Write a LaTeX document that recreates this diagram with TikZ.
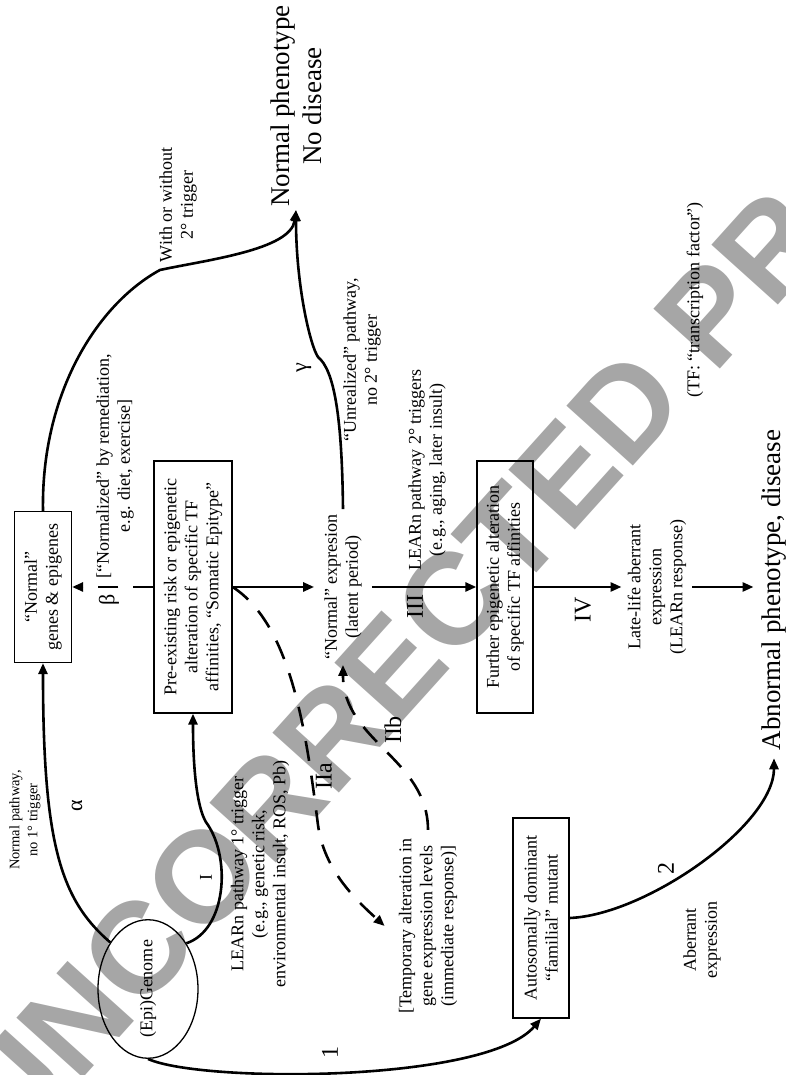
\documentclass[tikz,border=0pt]{standalone}
\usepackage{fontspec}
\setmainfont{Liberation Serif}
\newfontfamily\wmfont{Liberation Sans}
\usepackage{tikz}
\usetikzlibrary{arrows.meta,shapes.geometric}

\newcommand{\txtfs}{\fontsize{18}{21}\selectfont}
\newcommand{\smlfs}{\fontsize{14.5}{18}\selectfont}
\newcommand{\bigfs}{\fontsize{27}{32}\selectfont}
\newcommand{\numfs}{\fontsize{24}{28}\selectfont}
\newcommand{\grkfs}{\fontsize{22}{26}\selectfont}

\begin{document}
\begin{tikzpicture}[x=1pt, y=1pt, rotate=90, transform shape,
  box/.style={draw, line width=1.3pt, align=center, font=\txtfs, inner sep=0pt},
  lbl/.style={align=center, font=\txtfs, inner sep=2pt},
  num/.style={font=\numfs, inner sep=0pt},
  grk/.style={font=\grkfs, inner sep=0pt},
  flow/.style={line width=2.6pt, -{Triangle[length=11pt, width=9pt]}},
  dflow/.style={flow, dash pattern=on 20pt off 15pt}]
\useasboundingbox (0,0) rectangle (1075,786);

% Watermark
\begin{scope}
\clip (0,0) rectangle (1075,786);
\node[text=black!35, font=\wmfont\bfseries\fontsize{130}{130}\selectfont, rotate=-42] (wm) at (512,300) {UNCORRECTED PROOF};
\end{scope}

% Nodes of the main column
\node[box, minimum width=151pt, minimum height=57pt] (normbox) at (488,743) {“Normal”\\genes \& epigenes};
\node[box, minimum width=252pt, minimum height=78pt] (prebox) at (488,593) {Pre-existing risk or epigenetic\\alteration of specific TF\\affinities, “Somatic Epitype”};
\node[lbl, inner xsep=5pt, inner ysep=10pt] (normexpr) at (488,443) {“Normal” expresion\\(latent period)};
\node[box, minimum width=252pt, minimum height=56pt] (further) at (488,281) {Further epigenetic alteration\\of specific TF affinities};
\node[lbl, inner sep=6pt] (latelife) at (488,129) {Late-life aberrant\\expression\\(LEARn response)};
\node[font=\bigfs, inner sep=8pt] (abnormal) at (485,12) {Abnormal phenotype, disease};

% Genome and side nodes
\node[ellipse, draw, line width=1.3pt, minimum width=122pt, minimum height=100pt, inner sep=0pt, font=\txtfs] (genome) at (86,638) {(Epi)Genome};
\node[box, minimum width=200pt, minimum height=56pt] (autobox) at (157,245) {Autosomally dominant\\“familial” mutant};
\node[lbl, inner xsep=8pt, inner ysep=14pt] (tempalt) at (149,358) {[Temporary alteration in\\gene expression levels\\(immediate response)]};
\node[font=\bigfs, align=center, inner sep=3pt] (normpheno) at (969,490) {Normal phenotype\\No disease};

% Texts
\node[lbl] (tfnote) at (775,91) {(TF: “transcription factor”)};
\node[lbl] (aberr) at (135,84) {Aberrant\\expression};
\node[lbl, font=\smlfs] (normpath) at (255,761) {Normal pathway,\\no 1° trigger};
\node[lbl] (learn1) at (201,526) {LEARn pathway 1° trigger\\(e.g., genetic risk,\\environmental insult, ROS, Pb)};
\node[lbl] (learn2) at (605,359) {LEARn pathway 2° triggers\\(e.g., aging, later insult)};
\node[lbl] (normalized) at (609,671) {[“Normalized” by remediation,\\e.g. diet, exercise]};
\node[lbl] (unreal) at (715,424) {“Unrealized” pathway,\\no 2° trigger};
\node[lbl] (withwo) at (870,608) {With or without\\2° trigger};

% Path labels
\node[grk] (alpha) at (269,709) {α};
\node[grk] (beta) at (475,677) {β};
\node[grk] (gamma) at (707,482) {γ};
\node[font=\txtfs, inner sep=0pt] (one) at (197,580) {I};
\node[num] (twoa) at (299,462) {IIa};
\node[num] (twob) at (345,393) {IIb};
\node[num] (three) at (468,371) {III};
\node[num] (four) at (465,203) {IV};
\node[num] (path1) at (22,456) {1};
\node[num] (path2) at (206,120) {2};

% Main column arrows
\draw[flow] (prebox.south) -- (normexpr.north);
\draw[flow] (normexpr.south) -- (further.north);
\draw[flow] (further.south) -- (latelife.north);
\draw[flow] (latelife.south) -- (latelife.south |- abnormal.north);
\draw[dflow] (prebox.north) -- (normbox.south);

% Alpha and I from the genome
\draw[flow] (genome.39) .. controls (175,725) and (230,743) .. (normbox.west);
\coordinate (kinkI) at (250,578);
\draw[flow] (genome.-40) .. controls (145,560) and (215,555) .. (kinkI)
  .. controls (262,588) and (300,593) .. (prebox.west);

% To the normal phenotype
\coordinate (kinkW) at (805,626);
\draw[flow] (normbox.east) .. controls (680,745) and (770,690) .. (kinkW)
  .. controls (815,580) and (825,495) .. (normpheno.west);
\coordinate (kinkG) at (718,468);
\draw[flow] (normexpr.east) .. controls (660,444) and (705,452) .. (kinkG)
  .. controls (730,476) and (790,490) .. (normpheno.west);

% Temporary alteration (dashed)
\coordinate (midIIa) at (250,468);
\draw[dflow] (prebox.south) .. controls (450,495) and (345,480) .. (midIIa)
  .. controls (205,462) and (175,430) .. (tempalt.north);
\draw[dflow] (tempalt.east) .. controls (316,358) and (334,443) .. (normexpr.west);

% Familial route
\draw[flow] (genome.west) .. controls (-8,585) and (-8,300) .. (autobox.west);
\draw[flow] (autobox.south) .. controls (160,140) and (250,12) .. (abnormal.west);
\end{tikzpicture}
\end{document}
